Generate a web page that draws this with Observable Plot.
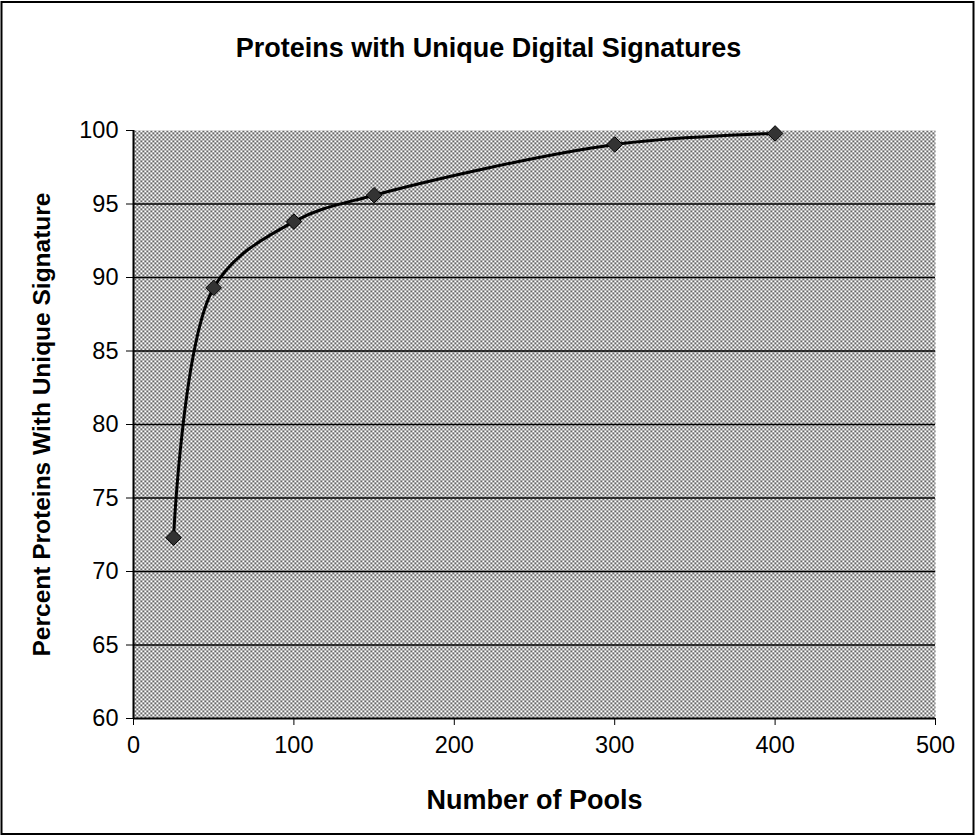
<!DOCTYPE html>
<html>
<head>
<meta charset="utf-8">
<script src="https://cdn.jsdelivr.net/npm/d3@7"></script>
<script src="https://cdn.jsdelivr.net/npm/@observablehq/plot@0.6"></script>
<style>
  html, body { margin: 0; padding: 0; background: white; }
  #chart svg { display: block; }
</style>
</head>
<body>
<div id="chart"></div>
<script>
// Data
const pools = [25, 50, 100, 150, 300, 400];
const percentUnique = [72.3, 89.3, 93.8, 95.6, 99.05, 99.8];
const xTicks = [0, 100, 200, 300, 400, 500];
const yTicks = [60, 65, 70, 75, 80, 85, 90, 95, 100];
const titleText = "Proteins with Unique Digital Signatures";
const xTitle = "Number of Pools";
const yTitle = "Percent Proteins With Unique Signature";

const data = pools.map((p, i) => ({pools: p, pct: percentUnique[i]}));

const chart = Plot.plot({
  width: 976,
  height: 837,
  marginLeft: 133,
  marginRight: 41,
  marginTop: 130,
  marginBottom: 119,
  style: {
    fontFamily: "'Liberation Sans', Arial, sans-serif",
    fontSize: "23px",
    color: "black",
    background: "white",
    overflow: "visible"
  },
  x: {domain: [0, 500], ticks: xTicks},
  y: {domain: [60, 100], ticks: yTicks},
  marks: [
    Plot.frame({fill: "url(#dots)", stroke: "none"}),
    Plot.gridY(yTicks.filter(v => v > 60 && v < 100), {stroke: "black", strokeOpacity: 1, strokeWidth: 1.4}),
    Plot.axisX({ticks: xTicks, tickSize: 7, tickPadding: 11, label: null, fontSize: 23.5, tickFormat: d => d}),
    Plot.axisY({ticks: yTicks, tickSize: 7, tickPadding: 8, label: null, fontSize: 23.5, tickFormat: d => d}),
    Plot.ruleX([0], {stroke: "black", strokeWidth: 2}),
    Plot.ruleY([60], {stroke: "black", strokeWidth: 2}),
    Plot.line(data, {x: "pools", y: "pct", curve: "catmull-rom", stroke: "black", strokeWidth: 3}),
    Plot.dot(data, {x: "pools", y: "pct", symbol: "diamond2", r: 7, fill: "#333", stroke: "black", strokeWidth: 1}),
    Plot.text([titleText], {text: d => d, frameAnchor: "top", lineAnchor: "middle", textAnchor: "middle", dx: -46, dy: -82, fontWeight: "bold", fontSize: 27}),
    Plot.text([xTitle], {text: d => d, frameAnchor: "bottom", lineAnchor: "middle", textAnchor: "middle", dy: 82, fontWeight: "bold", fontSize: 27}),
    Plot.text([yTitle], {text: d => d, frameAnchor: "left", lineAnchor: "middle", textAnchor: "middle", dx: -91, rotate: -90, fontWeight: "bold", fontSize: 24.5})
  ]
});

const svg = d3.select(chart);
const defs = svg.insert("defs", ":first-child");
const pat = defs.append("pattern")
  .attr("id", "dots")
  .attr("width", 4)
  .attr("height", 4)
  .attr("patternUnits", "userSpaceOnUse");
pat.append("rect").attr("width", 4).attr("height", 4).attr("fill", "white");
pat.append("rect").attr("x", 0).attr("y", 0).attr("width", 1.6).attr("height", 1.6).attr("fill", "#111");
pat.append("rect").attr("x", 2).attr("y", 2).attr("width", 1.6).attr("height", 1.6).attr("fill", "#111");

// outer chart border
svg.append("rect")
  .attr("x", 1.5).attr("y", 2)
  .attr("width", 972).attr("height", 832)
  .attr("fill", "none")
  .attr("stroke", "black")
  .attr("stroke-width", 2);

document.getElementById("chart").appendChild(chart);
</script>
</body>
</html>
